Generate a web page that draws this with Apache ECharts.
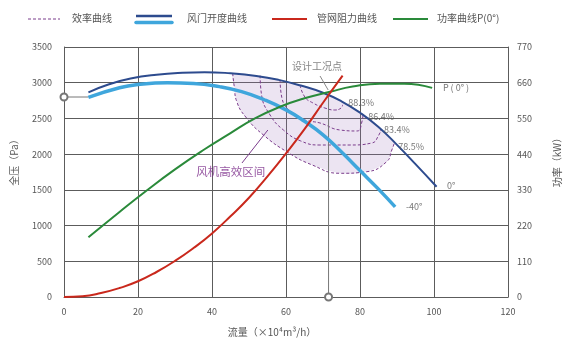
<!DOCTYPE html>
<html><head><meta charset="utf-8">
<script src="https://cdn.jsdelivr.net/npm/echarts@6/dist/echarts.min.js"></script>
<style>html,body{margin:0;padding:0;background:#fff}#c{width:571px;height:345px}</style>
</head><body><div id="c"></div>
<script>
// ---- data (x: 流量 ×10⁴m³/h, y: 全压 Pa or 功率 kW) ----
const xTicks = [0, 20, 40, 60, 80, 100, 120];
const pressureTicks = [0, 500, 1000, 1500, 2000, 2500, 3000, 3500];
const powerTicks = [0, 110, 220, 330, 440, 550, 660, 770];

const damper0 = [[6.6,2866],[12,2975],[18,3058],[25,3112],[32,3140],[38,3148],[45,3132],[52,3095],[58,3040],[64,2960],[70,2860],[75,2740],[80,2580],[85,2380],[90,2130],[95,1860],[100.7,1544]];
const damperM40 = [[6.6,2796],[15,2930],[20,2975],[28,3000],[35,2990],[42,2945],[48,2875],[54,2765],[60,2620],[65,2460],[70,2270],[75,2030],[80,1770],[85,1510],[89.5,1262]];
const power0 = [[6.6,184],[15,262],[22,325],[30,393],[38,455],[44.9,504],[51.6,550],[58.4,586],[65,612],[71.9,632],[78,648],[85.4,657],[92,657],[99.5,644]];
const systemCurve = [[0,0],[5,10],[10,55],[15,125],[20,220],[25,350],[30,505],[35,685],[40,890],[45,1130],[50,1390],[55,1690],[60,2010],[65,2350],[70,2720],[75.3,3100]];

const eff785 = [[45.6,3132],[46,2950],[46.7,2734],[49.4,2502],[53.9,2268],[60.2,2034],[67,1850],[74.6,1732],[81.8,1754],[87.2,1894],[88.6,2058],[89.3,2160]];
const eff834 = [[53,3100],[53.4,2828],[55.7,2548],[59.3,2338],[64,2184],[69.2,2128],[77.3,2128],[83.2,2156],[85.1,2268],[85.7,2350]];
const eff864 = [[58.4,3040],[58.9,2786],[61.6,2576],[65.1,2478],[69.2,2436],[74.6,2338],[79.2,2324],[80.5,2450],[80.8,2560]];
const eff883 = [[63.8,2966],[65.1,2800],[67.3,2716],[70.5,2646],[73.2,2618],[74.9,2646],[75.3,2690]];

const designFlow = 71.5, designPressure = 2850, refPressure = 2800, curveStart = 6.6;

const effLabels = [{name:'88.3%', value:[80.3,2716]},{name:'86.4%', value:[85.7,2520]},{name:'83.4%', value:[90,2338]},{name:'78.5%', value:[93.8,2100]}];
const curveLabels = [{name:'P ( 0° )', value:[102.4,2926]},{name:'0°', value:[103.5,1554]},{name:'-40°', value:[92.4,1260]}];
const designLabel = {name:'设计工况点', value:[68.4,3225]};
const designLeader = [[69.2,3094],[71.4,2898]];
const zoneLabel = {name:'风机高效区间', value:[45.1,1750]};
const zoneLeader = [[48.1,1876],[55.1,2338]];

// ---- chart ----
const FONT = '"Noto Sans CJK SC", "Noto Sans", sans-serif';
const GRID = '#5c5c5c';
const TXT = '#555';
const chart = echarts.init(document.getElementById('c'));

const xa = eff785[0][0], xb = eff785[eff785.length-1][0];
const zonePoly = eff785.concat(damper0.filter(p => p[0] > xa && p[0] < xb).reverse());

function lineS(data, color, width, extra) {
  return Object.assign({type:'line', data, smooth:0.5, symbol:'none', lineStyle:{color, width}, silent:true, animation:false}, extra||{});
}
function effS(data){ return lineS(data, '#7b3c8c', 1, {smooth:0.5, lineStyle:{color:'#7b3c8c', width:1, type:[3,2]}, z:3}); }

const option = {
  animation:false,
  grid:{left:64, right:63, top:47, bottom:48},
  xAxis:{type:'value', min:xTicks[0], max:xTicks[xTicks.length-1], interval:20,
    axisLine:{show:true, lineStyle:{color:GRID}}, axisTick:{show:false},
    axisLabel:{color:TXT, fontSize:9, fontFamily:FONT, margin:10},
    splitLine:{show:true, lineStyle:{color:GRID, width:1}}},
  yAxis:[
    {type:'value', min:pressureTicks[0], max:pressureTicks[pressureTicks.length-1], interval:500,
     axisLine:{show:true, lineStyle:{color:GRID}}, axisTick:{show:false},
     axisLabel:{color:TXT, fontSize:9, fontFamily:FONT, margin:12, formatter:v=>String(v)},
     splitLine:{show:true, lineStyle:{color:GRID, width:1}}},
    {type:'value', min:powerTicks[0], max:powerTicks[powerTicks.length-1], interval:110, position:'right',
     axisLine:{show:true, lineStyle:{color:GRID}}, axisTick:{show:false},
     axisLabel:{color:TXT, fontSize:9, fontFamily:FONT, margin:9, formatter:v=>String(v)},
     splitLine:{show:false}}
  ],
  series:[
    {type:'custom', silent:true, z:1, data:[0],
     renderItem:(params, api) => ({type:'polygon', shape:{points: zonePoly.map(p => api.coord(p)), smooth:0.3},
       style:{fill:'rgba(160,120,190,0.2)'}})},
    effS(eff785), effS(eff834), effS(eff864), effS(eff883),
    lineS(null, '#777', 1, {smooth:false, z:4,
      data:[{value:[0,refPressure], symbol:'emptyCircle', symbolSize:7},{value:[curveStart,refPressure], symbol:'none'}], symbol:'none', itemStyle:{color:'#777', borderColor:'#777'}}),
    lineS(null, '#777', 1, {smooth:false, z:4,
      data:[{value:[designFlow,0], symbol:'emptyCircle', symbolSize:7},{value:[designFlow,designPressure], symbol:'none'}], symbol:'none', itemStyle:{color:'#777', borderColor:'#777'}}),
    lineS(damperM40, '#3fa6dc', 3.5, {z:5}),
    lineS(damper0, '#2d4b8e', 2, {z:6}),
    lineS(power0, '#2a8a3a', 2, {yAxisIndex:1, z:6}),
    lineS(systemCurve, '#c9281c', 2, {z:7}),
    lineS(designLeader, '#888', 1, {smooth:false, z:7}),
    lineS(zoneLeader, '#7b3c8c', 1, {smooth:false, z:7}),
    {type:'scatter', symbolSize:0, silent:true, z:8, data:effLabels,
     label:{show:true, formatter:p=>p.name, color:TXT, fontSize:9, fontFamily:FONT, position:'inside'}},
    {type:'scatter', symbolSize:0, silent:true, z:8, data:curveLabels,
     label:{show:true, formatter:p=>p.name, color:TXT, fontSize:9, fontFamily:FONT, position:'right', distance:0}},
    {type:'scatter', symbolSize:0, silent:true, z:8, data:[designLabel],
     label:{show:true, formatter:p=>p.name, color:'#666', fontSize:10, fontFamily:FONT, position:'inside'}},
    {type:'scatter', symbolSize:0, silent:true, z:8, data:[zoneLabel],
     label:{show:true, formatter:p=>p.name, color:'#7b2a8a', fontSize:11.5, fontFamily:FONT, position:'inside'}}
  ],
  graphic:[
    {type:'line', shape:{x1:28,y1:19,x2:60,y2:19}, style:{stroke:'#7b3c8c', lineWidth:1, lineDash:[3,2]}},
    {type:'text', left:72, top:13, style:{text:'效率曲线', fill:TXT, fontSize:10, fontFamily:FONT}},
    {type:'line', shape:{x1:136,y1:16,x2:172,y2:16}, style:{stroke:'#2d4b8e', lineWidth:2.5}},
    {type:'line', shape:{x1:136,y1:22.5,x2:172,y2:22.5}, style:{stroke:'#3fa6dc', lineWidth:3.5, lineCap:'round'}},
    {type:'text', left:187, top:13, style:{text:'风门开度曲线', fill:TXT, fontSize:10, fontFamily:FONT}},
    {type:'line', shape:{x1:272,y1:19,x2:307,y2:19}, style:{stroke:'#c9281c', lineWidth:2}},
    {type:'text', left:317, top:13, style:{text:'管网阻力曲线', fill:TXT, fontSize:10, fontFamily:FONT}},
    {type:'line', shape:{x1:393,y1:19,x2:428,y2:19}, style:{stroke:'#2a8a3a', lineWidth:2}},
    {type:'text', left:437, top:13, style:{text:'功率曲线P(0°)', fill:TXT, fontSize:10, fontFamily:FONT}},
    {type:'text', x:14, y:160, rotation:Math.PI/2, style:{text:'全压（Pa）', fill:TXT, fontSize:10, fontFamily:FONT, align:'center', verticalAlign:'middle'}},
    {type:'text', x:557, y:160, rotation:Math.PI/2, style:{text:'功率（kW）', fill:TXT, fontSize:10, fontFamily:FONT, align:'center', verticalAlign:'middle'}},
    {type:'text', x:272, y:332, style:{text:'流量（×10⁴m³/h）', fill:TXT, fontSize:10, fontFamily:FONT, align:'center', verticalAlign:'middle'}}
  ]
};
chart.setOption(option);
</script></body></html>
